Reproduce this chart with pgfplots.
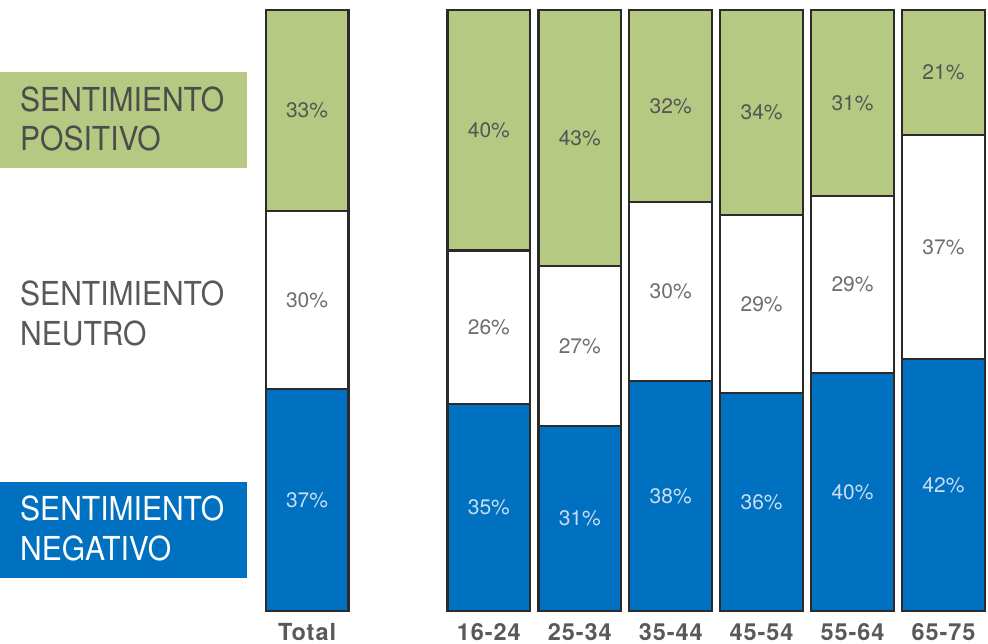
\documentclass[border=0pt]{standalone}
\usepackage{pgfplots}
\pgfplotsset{compat=1.18}
\usepackage{fontspec}
\setmainfont{TeX Gyre Heros}
\newfontfamily\labfont[FakeStretch=0.91]{TeX Gyre Heros}
\newfontfamily\tickfam[LetterSpace=4]{TeX Gyre Heros}
\protected\def\tickfont{\tickfam\fontsize{23.5}{23.5}\selectfont\bfseries}
\protected\def\pctfont{\fontsize{21}{21}\selectfont}
\protected\def\leyfont{\labfont\fontsize{33}{33}\selectfont}
\definecolor{verde}{HTML}{B6C982}
\definecolor{azul}{HTML}{0070C0}
\definecolor{borde}{HTML}{2B2B2B}
\definecolor{gristxt}{HTML}{555555}
\definecolor{gristick}{HTML}{595959}
\definecolor{celeste}{HTML}{C8DCF2}
\pgfplotsset{
  marco/.style={scale only axis, width=988pt, height=644pt,
    xmin=-3.377, xmax=7.49, ymin=-5.49, ymax=101.66,
    enlargelimits=false, clip=false},
}
\begin{document}
\begin{tikzpicture}
\begin{axis}[
  marco, name=ax,
  ybar stacked, bar width=0.91,
  axis line style={draw=none}, major tick style={draw=none},
  ytick=\empty,
  xtick={0,2,3,4,5,6,7},
  xticklabels={Total,16-24,25-34,35-44,45-54,55-64,65-75},
  xticklabel style={anchor=base, inner sep=0pt, yshift=3.5pt,
    font=\tickfont, text=gristick},
]
% negativo
\addplot[fill=azul, draw=borde, line width=2.3pt] coordinates {
  (0,36.9) (2,34.4) (3,30.8) (4,38.3) (5,36.3) (6,39.6) (7,41.9)};
% neutro
\addplot[fill=white, draw=borde, line width=2.3pt] coordinates {
  (0,29.6) (2,25.6) (3,26.6) (4,29.8) (5,29.6) (6,29.5) (7,37.3)};
% positivo
\addplot[fill=verde, draw=borde, line width=2.3pt] coordinates {
  (0,33.5) (2,40.0) (3,42.6) (4,31.9) (5,34.1) (6,30.9) (7,20.8)};
\end{axis}

% leyenda a la izquierda (pt = px del original, origen abajo a la izquierda)
\fill[verde] ([yshift=476pt]ax.south west) rectangle ++(247pt,96pt);
\fill[azul] ([yshift=66pt]ax.south west) rectangle ++(247pt,96pt);
\node[anchor=base west, inner sep=0pt, text=black!70, font=\leyfont]
  at ([xshift=20pt,yshift=532pt]ax.south west) {SENTIMIENTO};
\node[anchor=base west, inner sep=0pt, text=black!70, font=\leyfont]
  at ([xshift=20pt,yshift=493pt]ax.south west) {POSITIVO};
\node[anchor=base west, inner sep=0pt, text=black!65, font=\leyfont]
  at ([xshift=20pt,yshift=338pt]ax.south west) {SENTIMIENTO};
\node[anchor=base west, inner sep=0pt, text=black!65, font=\leyfont]
  at ([xshift=20pt,yshift=298pt]ax.south west) {NEUTRO};
\node[anchor=base west, inner sep=0pt, text=white, font=\leyfont]
  at ([xshift=20pt,yshift=123pt]ax.south west) {SENTIMIENTO};
\node[anchor=base west, inner sep=0pt, text=white, font=\leyfont]
  at ([xshift=20pt,yshift=83pt]ax.south west) {NEGATIVO};

% etiquetas de porcentaje, en el centro de cada tramo
\begin{axis}[
  marco, hide axis,
  point meta=explicit symbolic,
  nodes near coords={\pgfplotspointmeta\%},
  every node near coord/.append style={anchor=center, inner sep=0pt,
    font=\pctfont},
]
\addplot[only marks, mark=none, nodes near coords style={text=celeste}] coordinates {
  (0,18.45)[37] (2,17.2)[35] (3,15.4)[31] (4,19.15)[38] (5,18.15)[36] (6,19.8)[40] (7,20.95)[42]};
\addplot[only marks, mark=none, nodes near coords style={text=gristxt!85}] coordinates {
  (0,51.7)[30] (2,47.2)[26] (3,44.1)[27] (4,53.2)[30] (5,51.1)[29] (6,54.35)[29] (7,60.55)[37]};
\addplot[only marks, mark=none, nodes near coords style={text=gristxt}] coordinates {
  (0,83.25)[33] (2,80.0)[40] (3,78.7)[43] (4,84.05)[32] (5,82.95)[34] (6,84.55)[31] (7,89.6)[21]};
\end{axis}
\end{tikzpicture}
\end{document}
